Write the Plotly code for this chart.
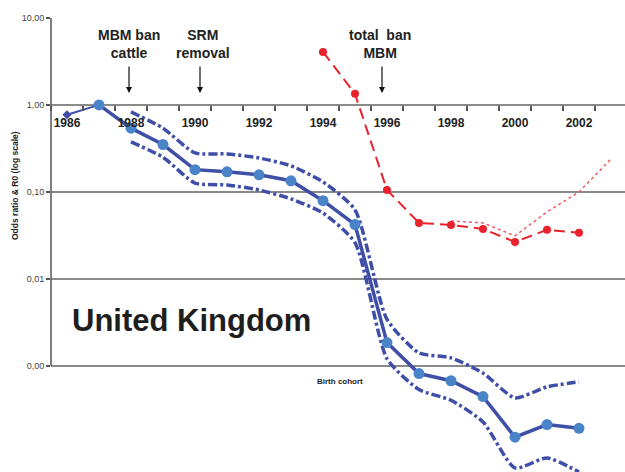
import math
import plotly.graph_objects as go

# Birth cohorts and estimated series
years_first = [1986, 1987]
odds_first = [0.77, 1.0]

years_main = [1987, 1988, 1989, 1990, 1991, 1992, 1993, 1994, 1995,
              1996, 1997, 1998, 1999, 2000, 2001, 2002]
odds_main = [1.0, 0.54, 0.35, 0.18, 0.17, 0.157, 0.134, 0.079, 0.042,
             0.00184, 0.00081, 0.00067, 0.00044, 0.00015, 0.00021, 0.00019]

years_ci = [1988, 1989, 1990, 1991, 1992, 1993, 1994, 1995,
            1996, 1997, 1998, 1999, 2000, 2001, 2002]
ci_upper = [0.83, 0.54, 0.28, 0.273, 0.245, 0.199, 0.13, 0.062,
            0.0034, 0.0014, 0.00123, 0.00082, 0.000425, 0.00057, 0.00065]
ci_lower = [0.375, 0.25, 0.126, 0.12, 0.105, 0.083, 0.057, 0.026,
            0.0012, 0.00053, 0.0004, 0.000225, 0.0000665, 0.0000867, 0.0000598]

years_r0 = [1994, 1995, 1996, 1997, 1998, 1999, 2000, 2001, 2002]
r0 = [4.07, 1.34, 0.105, 0.0439, 0.0416, 0.0374, 0.0265, 0.0365, 0.0337]

years_r0_alt = [1998, 1999, 2000, 2001, 2002, 2003]
r0_alt = [0.0462, 0.0439, 0.0311, 0.0587, 0.0997, 0.239]

label_years = list(range(1986, 2003, 2))
y_ticks = [10, 1, 0.1, 0.01, 0.001]
y_tick_text = ["10,00", "1,00", "0,10", "0,01", "0,00"]

W, H = 625, 472
ML, MT = 51, 18
Y_LOG_RANGE = [-4.224, 1.0]
X_RANGE = [1985.5, 1985.5 + (W - ML) / 32.0]

BLUE = "#3f4ea6"
BLUE_MARK = "#4a84c8"
RED = "#e8232b"
FONT = "Liberation Sans, Arial, sans-serif"
CI_LINE = dict(color=BLUE, width=3.5, dash="9px,3px,3px,3px",
               shape="spline", smoothing=0.6)


def xp(px):
    return (px - ML) / (W - ML)


def yp(py):
    return (H - py) / (H - MT)


def ylog_paper(v):
    lo, hi = Y_LOG_RANGE
    return (math.log10(v) - lo) / (hi - lo)


fig = go.Figure()

fig.add_trace(go.Scatter(x=years_ci, y=ci_upper, mode="lines",
                         line=CI_LINE, hoverinfo="skip"))
fig.add_trace(go.Scatter(x=years_ci, y=ci_lower, mode="lines",
                         line=CI_LINE, hoverinfo="skip"))
fig.add_trace(go.Scatter(
    x=years_first, y=odds_first, mode="lines+markers",
    line=dict(color=BLUE, width=2),
    marker=dict(symbol="diamond", size=7, color=BLUE)))
fig.add_trace(go.Scatter(
    x=years_main, y=odds_main, mode="lines+markers",
    line=dict(color=BLUE, width=3.5),
    marker=dict(symbol="circle", size=11, color=BLUE_MARK)))
fig.add_trace(go.Scatter(
    x=years_r0_alt, y=r0_alt, mode="lines",
    line=dict(color="#f05a63", width=1.5, dash="dot")))
fig.add_trace(go.Scatter(
    x=years_r0, y=r0, mode="lines+markers",
    line=dict(color=RED, width=2, dash="11px,6px"),
    marker=dict(symbol="circle", size=8, color=RED)))

annotations = [
    dict(text="MBM ban<br>cattle", x=xp(129), y=yp(43.5)),
    dict(text="SRM<br>removal", x=xp(203), y=yp(43.5)),
    dict(text="total\u00a0 ban<br>MBM", x=xp(380), y=yp(43.5)),
]
for a in annotations:
    a.update(xref="paper", yref="paper", showarrow=False,
             xanchor="center", yanchor="middle",
             font=dict(family=FONT, size=14, color="#222222", weight="bold"))

# intervention arrows
for ax_px in (129, 200, 382):
    annotations.append(dict(
        x=xp(ax_px), y=yp(93), xref="paper", yref="paper", text="",
        showarrow=True, ax=0, ay=-28, arrowhead=2, arrowsize=1,
        arrowwidth=1.2, arrowcolor="#111111"))

annotations.append(dict(
    text="United Kingdom", x=xp(191), y=yp(320), xref="paper", yref="paper",
    showarrow=False, xanchor="center", yanchor="middle",
    font=dict(family=FONT, size=31, color="#1e1e1e", weight="bold")))
annotations.append(dict(
    text="Birth cohort", x=xp(340), y=yp(381), xref="paper", yref="paper",
    showarrow=False, xanchor="center", yanchor="middle",
    font=dict(family=FONT, size=8, color="#222222", weight="bold")))
# y-axis title sits in the left margin
annotations.append(dict(
    text="Odds ratio & R0 (log scale)", x=xp(15), y=yp(186),
    xref="paper", yref="paper", showarrow=False, textangle=-90,
    xanchor="center", yanchor="middle",
    font=dict(family=FONT, size=8.5, color="#222222", weight="bold")))

fig.update_layout(
    width=W, height=H,
    margin=dict(l=ML, r=0, t=MT, b=0, pad=0),
    paper_bgcolor="white", plot_bgcolor="white",
    showlegend=False,
    font=dict(family=FONT),
    annotations=annotations,
    shapes=[dict(type="line", xref="paper", yref="paper",
                 x0=0, x1=0, y0=ylog_paper(0.001), y1=ylog_paper(10),
                 line=dict(color="#555555", width=1.5))],
    xaxis=dict(
        range=X_RANGE, anchor="free", position=ylog_paper(1), side="bottom",
        tickmode="array", tickvals=label_years,
        ticktext=[str(y) for y in label_years],
        ticks="", showgrid=False, zeroline=False, showline=False,
        ticklabelstandoff=9,
        tickfont=dict(family=FONT, size=12, color="#222222", weight="bold"),
        minor=dict(tick0=1985.5, dtick=1, ticks="outside", ticklen=5,
                   tickwidth=1.5, tickcolor="#555555", showgrid=False),
    ),
    yaxis=dict(
        type="log", range=Y_LOG_RANGE,
        tickmode="array", tickvals=y_ticks, ticktext=y_tick_text,
        ticks="outside", ticklen=4, tickwidth=1.5, tickcolor="#555555",
        showgrid=True, gridcolor="#8a8a8a", gridwidth=1.5,
        showline=False, zeroline=False,
        tickfont=dict(family=FONT, size=9, color="#444444"),
    ),
)

fig.write_html("out.html")
